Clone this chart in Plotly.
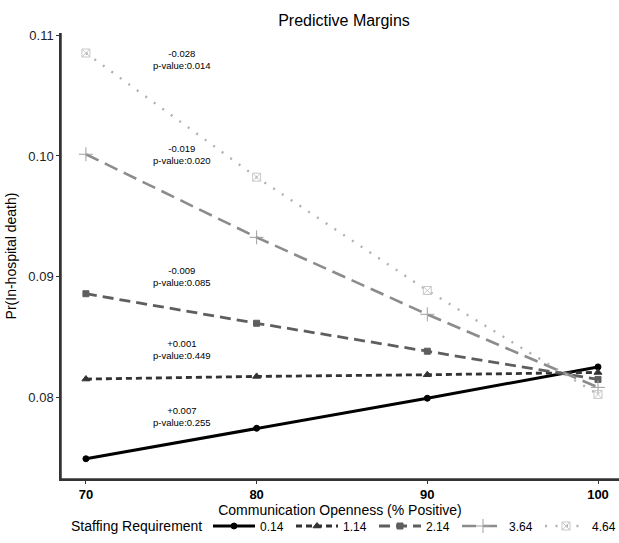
import plotly.graph_objects as go

x_vals = [70, 80, 90, 100]
groups = ["0.14", "1.14", "2.14", "3.64", "4.64"]
y_014 = [0.07488, 0.07741, 0.07990, 0.08250]
y_114 = [0.08149, 0.08171, 0.08185, 0.08204]
y_214 = [0.08857, 0.08612, 0.08380, 0.08146]
y_364 = [0.10014, 0.09325, 0.08686, 0.08080]
y_464 = [0.10854, 0.09824, 0.08884, 0.08022]
series = [y_014, y_114, y_214, y_364, y_464]

ann_x = [75.6, 75.6, 75.6, 75.6, 75.6]
ann_y = [0.07839, 0.08393, 0.08996, 0.1001, 0.1080]
ann_text = ["+0.007<br>p-value:0.255", "+0.001<br>p-value:0.449", "-0.009<br>p-value:0.085",
            "-0.019<br>p-value:0.020", "-0.028<br>p-value:0.014"]

y_ticks = [0.08, 0.09, 0.10, 0.11]
x_ticks = [70, 80, 90, 100]
legend_title = "Staffing Requirement"

line_colors = ["#000000", "#333333", "#5e5e5e", "#8c8c8c", "#b0b0b0"]
marker_colors = ["#000000", "#333333", "#5e5e5e", "#a0a0a0", "#c8c8c8"]
dashes = ["solid", "6px,4px", "11px,6px", "14px,7px", "2px,8.5px"]
symbols = ["circle", "triangle-up", "square", "cross-thin-open", "square-x-open"]
msizes = [6, 7, 6, 10, 8]
lwidths = [3, 2.8, 2.8, 2.6, 2.4]

W, H = 619, 543
L, R, T, B = 61, 0, 33, 64
pw, ph = W - L - R, H - T - B

fig = go.Figure()
for i, g in enumerate(groups):
    fig.add_trace(go.Scatter(
        x=x_vals, y=series[i], name=g, mode="lines+markers",
        line=dict(color=line_colors[i], width=lwidths[i], dash=dashes[i]),
        marker=dict(symbol=symbols[i], size=msizes[i], color=marker_colors[i],
                    line=dict(color=marker_colors[i], width=1)),
    ))

for xa, ya, t in zip(ann_x, ann_y, ann_text):
    fig.add_annotation(x=xa, y=ya, text=t, showarrow=False, xref="x", yref="y",
                       font=dict(size=9.5, color="#000000", family="Liberation Sans, Arial"),
                       align="center")

# legend title drawn as text at the left of the legend row
fig.add_annotation(x=(69 - L) / pw, y=-(526 - (T + ph)) / ph, xref="paper", yref="paper",
                   text=legend_title, showarrow=False, xanchor="left", yanchor="middle",
                   font=dict(size=14, color="#000000"))

# panel axis lines (left and bottom)
fig.add_shape(type="line", xref="paper", yref="paper", x0=0, x1=1, y0=0, y1=0,
              line=dict(color="#333333", width=1.5), layer="above")
fig.add_shape(type="line", xref="paper", yref="paper", x0=0, x1=0, y0=0, y1=1,
              line=dict(color="#333333", width=1.5), layer="above")

fig.update_layout(
    width=W, height=H,
    margin=dict(l=L, r=R, t=T, b=B, autoexpand=False),
    paper_bgcolor="white", plot_bgcolor="white",
    font=dict(family="Liberation Sans, Arial", color="#000000"),
    title=dict(text="Predictive Margins", x=(344 / W), xanchor="center",
               y=1 - 20 / H, yanchor="middle", font=dict(size=16)),
    xaxis=dict(range=[68.54, 101.23], tickvals=x_ticks,
               ticktext=["<b>%d</b>" % v for v in x_ticks],
               showline=True, linecolor="#333333", linewidth=1.5, mirror=False,
               ticks="outside", ticklen=3, tickcolor="#333333", showgrid=False, zeroline=False,
               tickfont=dict(size=13, color="#000000"),
               title=dict(text="Communication Openness (% Positive)", font=dict(size=14), standoff=4)),
    yaxis=dict(range=[0.0732, 0.1102], tickvals=y_ticks,
               ticktext=["%.2f" % v for v in y_ticks],
               showline=True, linecolor="#333333", linewidth=1.5,
               ticks="outside", ticklen=3, tickcolor="#333333", showgrid=False, zeroline=False,
               tickfont=dict(size=13, color="#222222"),
               title=dict(text="Pr(In-hospital death)", font=dict(size=14), standoff=8)),
    legend=dict(orientation="h", x=(208 - L) / pw, xanchor="left", y=-(526 - (T + ph)) / ph,
                yanchor="middle", font=dict(size=12), entrywidth=26, itemwidth=42,
                tracegroupgap=0),
    showlegend=True,
)

fig.write_html("out.html", post_script="document.body.style.margin='0';",
               config={"displayModeBar": False})
